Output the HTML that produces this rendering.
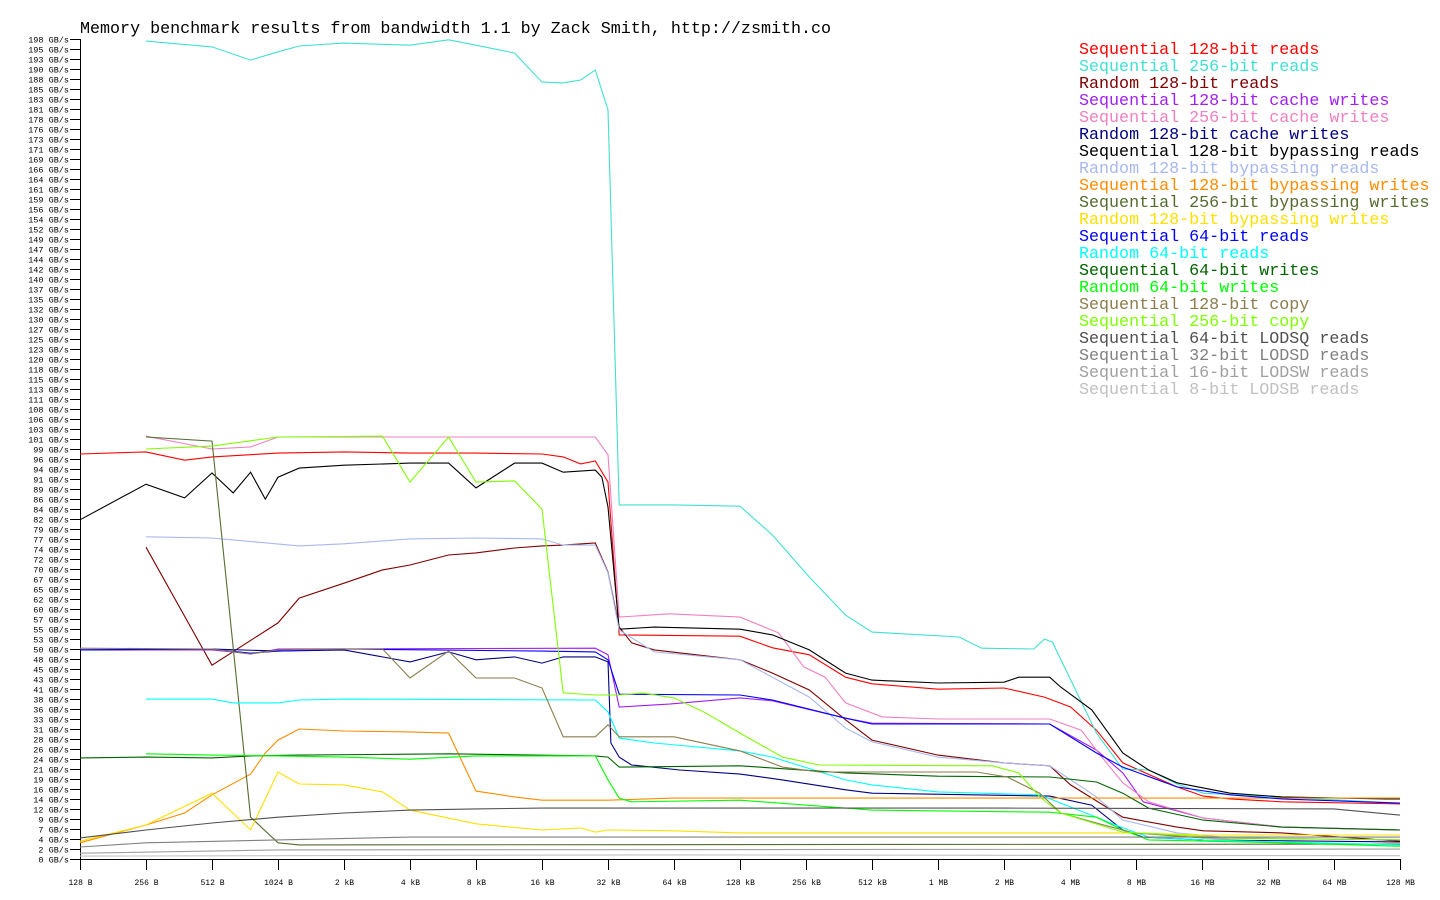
<!DOCTYPE html>
<html><head><meta charset="utf-8"><title>Memory benchmark</title>
<style>
html,body{margin:0;padding:0;background:#fff;}
svg{display:block;}
.t{font-family:"Liberation Mono",monospace;}
</style></head>
<body>
<svg id="chart" width="1440" height="900" xmlns="http://www.w3.org/2000/svg">
<rect width="1440" height="900" fill="#fff"/>
<text class="t" x="80" y="33" font-size="16.7" fill="#000">Memory benchmark results from bandwidth 1.1 by Zack Smith, http://zsmith.co</text>
<g id="axes"></g>
<g id="series"></g>
<g id="legend"></g>
</svg>
<script>
const xTickLabels = ["128 B","256 B","512 B","1024 B","2 kB","4 kB","8 kB","16 kB","32 kB","64 kB","128 kB","256 kB","512 kB","1 MB","2 MB","4 MB","8 MB","16 MB","32 MB","64 MB","128 MB"];
const yMax = 198;
const yTickCount = 83;
const seriesNames = ["Sequential 128-bit reads","Sequential 256-bit reads","Random 128-bit reads","Sequential 128-bit cache writes","Sequential 256-bit cache writes","Random 128-bit cache writes","Sequential 128-bit bypassing reads","Random 128-bit bypassing reads","Sequential 128-bit bypassing writes","Sequential 256-bit bypassing writes","Random 128-bit bypassing writes","Sequential 64-bit reads","Random 64-bit reads","Sequential 64-bit writes","Random 64-bit writes","Sequential 128-bit copy","Sequential 256-bit copy","Sequential 64-bit LODSQ reads","Sequential 32-bit LODSD reads","Sequential 16-bit LODSW reads","Sequential 8-bit LODSB reads"];
const seriesColors = ["#ff0000","#40e0d0","#800000","#a020f0","#f080c0","#000080","#000000","#a8b8ee","#ff8c00","#556b2f","#ffe000","#0000ff","#00ffff","#006400","#00ff00","#8b7d4b","#7fff00","#505050","#808080","#a0a0a0","#c0c0c0"];

// sizes in KB, values in GB/s
const s1Sizes = [0.125,0.25,0.375,0.5,1,2,4,8,16,20,24,28,32,36,128,180,265,388,512,1024,2048,3130,4120,5410,7130,12600,16600,22000,37900,131072];
const s1Values = [97.8,98.3,96.3,97.1,98.0,98.3,98.0,98.0,97.8,97.1,95.4,96.1,91.0,54.1,53.8,51.0,49.3,43.9,42.3,41.0,41.3,39.1,36.7,31.1,23.2,17.4,15.2,14.5,13.8,13.3];
const s2Sizes = [0.25,0.5,0.75,1,1.25,2,4,6,8,12,16,20,24,28,32,36,64,128,180,265,388,512,1280,1620,2800,3130,3400,5410,7130,9350,12600,16600,131072];
const s2Values = [197.5,196.1,192.9,194.9,196.3,197.0,196.5,197.8,196.5,194.6,187.6,187.4,188.1,190.5,180.9,85.5,85.5,85.2,78.2,68.1,58.9,54.8,53.6,50.9,50.7,53.1,52.4,30.4,21.7,21.5,18.1,15.9,13.5];
const s3Sizes = [0.25,0.5,1,1.25,2,3,4,6,8,12,16,20,28,32,36,41,52,128,180,265,388,512,1024,2048,3310,4120,7130,12600,16600,37900,131072];
const s3Values = [75.3,46.8,57.0,63.0,66.6,69.8,71.0,73.4,73.9,75.1,75.6,75.8,76.3,69.3,56.0,52.2,50.5,48.1,44.9,40.8,33.6,28.7,25.1,23.2,22.5,17.9,10.1,7.7,6.8,6.3,4.3];
const s4Sizes = [0.125,0.5,0.625,0.75,1,28,32,36,61,128,180,388,512,3310,5410,7130,8840,16600,37900,131072];
const s4Values = [50.5,50.5,50.0,49.5,50.7,50.9,49.3,36.7,37.4,38.9,38.2,34.0,32.8,32.6,26.3,20.8,13.8,9.9,7.7,7.0];
const s5Sizes = [0.25,0.5,0.75,1,28,32,36,61,128,192,250,313,388,570,1024,3310,4610,5720,7130,9350,16600,37900,131072];
const s5Values = [102.1,99.0,99.5,101.9,101.9,97.6,58.4,59.2,58.4,54.6,46.4,43.9,37.7,34.3,33.8,33.8,31.1,24.6,18.4,13.8,9.9,7.7,7.0];
const s6Sizes = [0.125,0.5,1,2,4,6,8,12,16,20,28,32,33,36,41,68,128,200,388,512,3310,5150,7130,8840,16600,131072];
const s6Values = [50.5,50.7,50.2,50.5,47.6,50.0,48.1,48.8,47.3,48.8,48.8,47.6,28.0,24.6,22.7,21.5,20.5,19.1,16.7,15.9,15.2,13.0,7.0,5.3,4.6,4.1];
const s7Sizes = [0.125,0.25,0.375,0.5,0.625,0.75,0.875,1,1.25,2,4,6,8,12,16,20,28,30,32,36,52,128,180,265,388,512,1024,2048,2390,3310,3720,5150,7130,9350,12600,22000,37900,113000,131072];
const s7Values = [81.9,90.5,87.2,93.2,88.4,93.4,86.9,92.2,94.4,95.1,95.6,95.6,89.6,95.6,95.6,93.4,93.9,92.2,85.0,55.5,56.0,55.5,54.1,50.5,44.9,43.2,42.5,42.7,43.9,43.9,41.5,36.0,25.6,21.5,18.4,15.9,15.0,14.5,14.5];
const s8Sizes = [0.25,0.5,1.25,2,4,8,16,20,28,32,36,52,128,265,388,512,1024,2048,3310,5410,7130,12600,22000,131072];
const s8Values = [77.8,77.5,75.6,76.1,77.3,77.5,77.3,75.8,75.8,69.1,55.3,50.0,48.1,39.1,31.6,28.3,24.6,23.2,22.5,15.0,9.4,6.3,5.1,4.6];
const s9Sizes = [0.125,0.25,0.375,0.5,0.75,0.875,1,1.25,2,4,6,8,12,16,32,64,131072];
const s9Values = [3.9,8.2,11.1,15.5,20.5,25.6,28.7,31.4,30.9,30.7,30.4,16.4,15.0,14.2,14.2,14.7,14.7];
const s10Sizes = [0.25,0.5,0.75,1,1.25,131072];
const s10Values = [101.9,100.9,10.1,3.9,3.4,3.6];
const s11Sizes = [0.125,0.25,0.5,0.75,1,1.25,2,3,4,8,16,24,28,32,64,128,7970,16600,131072];
const s11Values = [4.3,8.2,15.9,7.0,21.0,18.1,17.9,16.2,11.8,8.5,7.0,7.5,6.5,7.0,6.8,6.3,6.3,5.8,5.8];
const s12Sizes = [0.125,0.5,0.75,1,2,16,28,32,36,128,180,388,512,3310,5410,7130,12600,22000,37900,131072];
const s12Values = [50.5,50.7,49.7,50.2,50.7,50.2,50.0,48.1,39.8,39.6,38.4,34.0,32.6,32.6,25.6,22.2,17.4,15.5,14.5,13.5];
const s13Sizes = [0.25,0.5,0.625,1,1.25,2,28,32,36,52,128,180,388,512,1024,2980,3720,5410,7130,9350,16600,131072];
const s13Values = [38.6,38.6,37.7,37.7,38.4,38.6,38.4,35.5,29.2,28.0,26.1,24.6,19.1,17.9,16.2,15.5,13.5,10.1,7.5,5.3,4.6,3.4];
const s14Sizes = [0.125,0.25,0.5,0.75,1.25,6,28,32,36,128,388,1024,3310,5410,7130,9350,16600,37900,131072];
const s14Values = [24.4,24.6,24.4,24.9,25.1,25.4,24.9,24.6,22.2,22.5,20.8,20.0,19.8,18.6,15.9,12.3,9.4,7.7,7.0];
const s15Sizes = [0.25,0.5,1,2,4,8,28,32,36,41,128,388,512,3310,5410,7130,9350,37900,131072];
const s15Values = [25.4,25.1,24.9,24.6,24.1,24.9,24.9,19.1,14.7,13.8,14.2,12.3,11.8,11.3,10.1,7.0,4.6,3.9,3.1];
const s16Sizes = [0.125,0.5,0.75,1,2,3,4,6,8,12,16,20,28,32,36,64,128,200,294,1536,2120,2980,3720,5410,7970,16600,131072];
const s16Values = [50.9,50.7,49.5,50.5,50.7,50.7,43.7,50.2,43.7,43.7,41.3,29.5,29.5,32.4,29.5,29.5,26.1,22.2,21.0,21.0,19.8,15.9,11.1,8.7,6.3,5.1,4.6];
const s17Sizes = [0.25,0.5,1,3,4,6,8,12,16,20,28,36,46,64,89,128,200,294,1810,2390,2980,3720,7130,22000,131072];
const s17Values = [99.0,99.7,101.9,102.1,91.0,101.9,91.0,91.3,84.5,40.1,39.6,39.6,40.1,38.9,35.3,30.4,24.6,22.7,22.5,20.8,15.0,11.1,6.5,5.1,4.6];
const s18Sizes = [0.125,0.25,0.5,1,2,4,8,16,2048,65536,131072];
const s18Values = [5.1,7.0,8.7,10.1,11.1,11.8,12.1,12.3,12.3,12.1,10.6];
const s19Sizes = [0.125,0.25,1,4,131072];
const s19Values = [2.9,3.9,4.6,5.3,5.3];
const s20Sizes = [0.125,1,131072];
const s20Values = [1.4,2.2,2.4];
const s21Sizes = [0.125,64,131072];
const s21Values = [0.7,1.0,0.8];

const allSizes = [s1Sizes,s2Sizes,s3Sizes,s4Sizes,s5Sizes,s6Sizes,s7Sizes,s8Sizes,s9Sizes,s10Sizes,s11Sizes,s12Sizes,s13Sizes,s14Sizes,s15Sizes,s16Sizes,s17Sizes,s18Sizes,s19Sizes,s20Sizes,s21Sizes];
const allValues = [s1Values,s2Values,s3Values,s4Values,s5Values,s6Values,s7Values,s8Values,s9Values,s10Values,s11Values,s12Values,s13Values,s14Values,s15Values,s16Values,s17Values,s18Values,s19Values,s20Values,s21Values];

const NS = "http://www.w3.org/2000/svg";
const X0 = 80, XSTEP = 66, Y0 = 859, YH = 820;
function xScale(kb){ return X0 + Math.log2(kb*8)*XSTEP; }
function yScale(v){ return Y0 - v*YH/yMax; }
function mk(tag, attrs, parent){ const e=document.createElementNS(NS,tag); for(const k in attrs) e.setAttribute(k,attrs[k]); parent.appendChild(e); return e; }

const axes = document.getElementById("axes");
const yAxis = mk("line",{x1:80.5,y1:39,x2:80.5,y2:860,stroke:"#000"},axes);


const xAxis = mk("line",{x1:80,y1:859.5,x2:1401,y2:859.5,stroke:"#000"},axes);


for(let i=0;i<yTickCount;i++){
  const v = i*yMax/(yTickCount-1);
  const y = Math.round(yScale(v))+0.5;
  const tk = mk("line",{x1:70,y1:y,x2:80,y2:y,stroke:"#000"},axes);
  
  
  const tl = mk("text",{x:69,y:y+3,"font-size":"8.5","text-anchor":"end",class:"t",fill:"#000"},axes);
  tl.textContent = Math.floor(v+1e-9)+" GB/s";
  
  
}
xTickLabels.forEach((lab,i)=>{
  const x = X0 + i*XSTEP + 0.5;
  const tk = mk("line",{x1:x,y1:859,x2:x,y2:870,stroke:"#000"},axes);
  
  
  const tl = mk("text",{x:x,y:885,"font-size":"8","text-anchor":"middle",class:"t",fill:"#000"},axes);
  tl.textContent = lab;
  
  
});

const sg = document.getElementById("series");
allSizes.forEach((sizes,si)=>{
  const vals = allValues[si];
  const n = Math.min(sizes.length, vals.length);
  const pts = [];
  for(let i=0;i<n;i++) pts.push(xScale(sizes[i]).toFixed(1)+","+yScale(vals[i]).toFixed(1));
  const pl = mk("polyline",{points:pts.join(" "),fill:"none",stroke:seriesColors[si],"stroke-width":"1.1"},sg);
  
  
});

const lg = document.getElementById("legend");
seriesNames.forEach((nm,i)=>{
  const t = mk("text",{x:1079,y:54+i*17,"font-size":"16.7",class:"t",fill:seriesColors[i]},lg);
  t.textContent = nm;
  
  
});
</script>
</body></html>
